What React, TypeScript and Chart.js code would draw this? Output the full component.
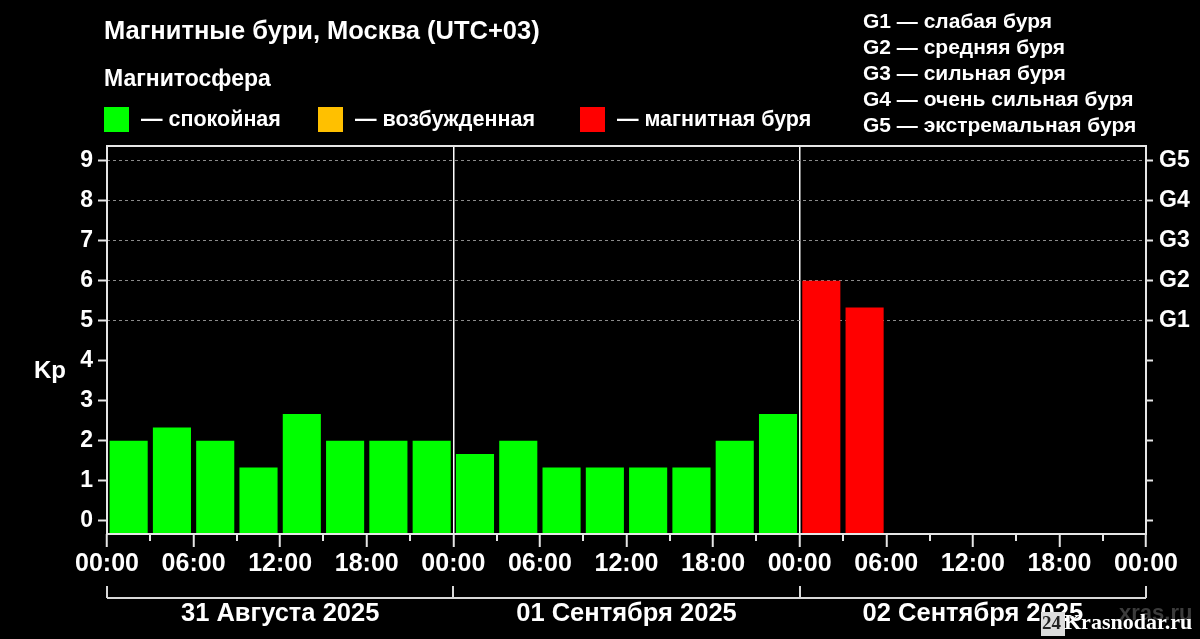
import React, { useEffect, useRef } from "react";
import { Chart, registerables } from "chart.js";

Chart.register(...registerables);

// ---- data ----
const SLOT_CENTERS = [1.5, 4.5, 7.5, 10.5, 13.5, 16.5, 19.5, 22.5, 25.5, 28.5, 31.5, 34.5, 37.5, 40.5, 43.5, 46.5, 49.5, 52.5];
const KP_VALUES = [2, 2.33, 2, 1.33, 2.67, 2, 2, 2, 1.67, 2, 1.33, 1.33, 1.33, 1.33, 2, 2.67, 6, 5.33];
const X_TICK_HOURS = [0, 6, 12, 18, 24, 30, 36, 42, 48, 54, 60, 66, 72];
const X_TICK_LABELS = ["00:00", "06:00", "12:00", "18:00", "00:00", "06:00", "12:00", "18:00", "00:00", "06:00", "12:00", "18:00", "00:00"];
const MINOR_TICK_HOURS = [3, 9, 15, 21, 27, 33, 39, 45, 51, 57, 63, 69];
const DAY_BOUNDS = [0, 24, 48, 72];
const DAY_LABELS = ["31 Августа 2025", "01 Сентября 2025", "02 Сентября 2025"];
const Y_TICKS = [0, 1, 2, 3, 4, 5, 6, 7, 8, 9];
const G_LABELS = ["", "", "", "", "", "G1", "G2", "G3", "G4", "G5"];
const LEGEND_LABELS = ["— спокойная", "— возбужденная", "— магнитная буря"];
const LEGEND_COLORS = ["#00ff00", "#ffc000", "#ff0000"];
const G_SCALE_TEXT = ["G1 — слабая буря", "G2 — средняя буря", "G3 — сильная буря", "G4 — очень сильная буря", "G5 — экстремальная буря"];
const TITLE = "Магнитные бури, Москва (UTC+03)";
const SUBTITLE = "Магнитосфера";
const Y_TITLE = "Kp";
const Y_MIN = -0.33;
const Y_MAX = 9.37;

const FONT = "'Liberation Sans', Arial, Helvetica, sans-serif";

function barColor(v: number): string {
  if (v >= 5) return LEGEND_COLORS[2];
  if (v >= 4) return LEGEND_COLORS[1];
  return LEGEND_COLORS[0];
}

const decorPlugin = {
  id: "decor",
  beforeDraw(chart: any) {
    const ctx = chart.ctx;
    ctx.save();
    ctx.fillStyle = "#000";
    ctx.fillRect(0, 0, chart.width, chart.height);
    ctx.restore();
  },
  afterDatasetsDraw(chart: any) {
    const ctx = chart.ctx;
    const a = chart.chartArea;
    const xs = chart.scales.x;
    ctx.save();
    ctx.strokeStyle = "#e6e6e6";
    ctx.lineWidth = 2;
    ctx.strokeRect(a.left, a.top, a.right - a.left, a.bottom - a.top);
    // minor ticks
    MINOR_TICK_HOURS.forEach((h) => {
      const px = Math.round(xs.getPixelForValue(h));
      ctx.beginPath();
      ctx.moveTo(px, a.bottom);
      ctx.lineTo(px, a.bottom + 7);
      ctx.stroke();
    });
    ctx.restore();
  },
  afterDraw(chart: any) {
    const ctx = chart.ctx;
    const xs = chart.scales.x;
    ctx.save();
    ctx.fillStyle = "#ffffff";
    ctx.textBaseline = "middle";
    ctx.textAlign = "left";
    // title
    ctx.font = `bold 25.5px ${FONT}`;
    ctx.fillText(TITLE, 104, 32);
    ctx.font = `bold 23px ${FONT}`;
    ctx.fillText(SUBTITLE, 104, 80);
    // legend
    const legendX = [104, 318, 580];
    ctx.font = `bold 21.5px ${FONT}`;
    LEGEND_LABELS.forEach((lab, i) => {
      ctx.fillStyle = LEGEND_COLORS[i];
      ctx.fillRect(legendX[i], 107, 25, 25);
      ctx.fillStyle = "#ffffff";
      ctx.fillText(lab, legendX[i] + 37, 120);
    });
    // G scale text
    ctx.font = `bold 21px ${FONT}`;
    G_SCALE_TEXT.forEach((t, i) => {
      ctx.fillText(t, 863, 22 + i * 26);
    });
    // y title
    ctx.font = `bold 24px ${FONT}`;
    ctx.fillText(Y_TITLE, 34, 371);
    // day brackets
    ctx.strokeStyle = "#d9d9d9";
    ctx.lineWidth = 2;
    const by = 598;
    ctx.beginPath();
    ctx.moveTo(xs.getPixelForValue(DAY_BOUNDS[0]), by);
    ctx.lineTo(xs.getPixelForValue(DAY_BOUNDS[DAY_BOUNDS.length - 1]), by);
    DAY_BOUNDS.forEach((h) => {
      const px = Math.round(xs.getPixelForValue(h));
      ctx.moveTo(px, by);
      ctx.lineTo(px, by - 12);
    });
    ctx.stroke();
    ctx.font = `bold 25.5px ${FONT}`;
    ctx.textAlign = "center";
    ctx.fillStyle = "#ffffff";
    DAY_LABELS.forEach((lab, i) => {
      const cx = (xs.getPixelForValue(DAY_BOUNDS[i]) + xs.getPixelForValue(DAY_BOUNDS[i + 1])) / 2;
      ctx.fillText(lab, cx, 614);
    });
    // watermarks
    ctx.textAlign = "left";
    ctx.font = `bold 22px ${FONT}`;
    ctx.fillStyle = "#3c3c3c";
    ctx.fillText("xras.ru", 1119, 614);
    ctx.fillStyle = "#dcdcdc";
    ctx.fillRect(1041, 612, 24, 24);
    ctx.fillStyle = "#222";
    ctx.font = `bold 19px 'Liberation Serif', 'DejaVu Serif', serif`;
    ctx.fillText("24", 1042, 624);
    ctx.fillStyle = "#ffffff";
    ctx.font = `bold 22px 'Liberation Serif', 'DejaVu Serif', serif`;
    ctx.fillText("Krasnodar.ru", 1064, 623);
    ctx.restore();
  },
};

export default function App() {
  const ref = useRef<HTMLCanvasElement | null>(null);

  useEffect(() => {
    document.body.style.margin = "0";
    document.body.style.background = "#000";
    const canvas = ref.current;
    if (!canvas) return;
    const chart = new Chart(canvas, {
      type: "bar",
      data: {
        datasets: [
          {
            data: KP_VALUES.map((y, i) => ({ x: SLOT_CENTERS[i], y })),
            backgroundColor: KP_VALUES.map(barColor),
            borderWidth: 0,
            barPercentage: 0.88,
            categoryPercentage: 1,
            base: Y_MIN,
            xAxisID: "x",
            yAxisID: "y",
          } as any,
        ],
      },
      options: {
        animation: false,
        responsive: false,
        devicePixelRatio: 1,
        layout: { padding: { top: 146, left: 0, right: 0, bottom: 0 } },
        plugins: { legend: { display: false }, tooltip: { enabled: false }, title: { display: false } },
        scales: {
          x: {
            type: "linear",
            position: "bottom",
            offset: false,
            min: 0,
            max: 72,
            afterBuildTicks: (scale: any) => {
              scale.ticks = X_TICK_HOURS.map((v) => ({ value: v }));
            },
            afterFit: (scale: any) => {
              scale.height = 105;
            },
            ticks: {
              autoSkip: false,
              maxRotation: 0,
              minRotation: 0,
              color: "#ffffff",
              font: { family: FONT, size: 25, weight: "bold" },
              padding: 2,
              callback: (value: any) => {
                const i = X_TICK_HOURS.indexOf(Number(value));
                return i >= 0 ? X_TICK_LABELS[i] : "";
              },
            },
            grid: {
              offset: false,
              drawOnChartArea: true,
              color: (c: any) => (c.tick && (c.tick.value === 24 || c.tick.value === 48) ? "#ffffff" : "rgba(0,0,0,0)"),
              tickColor: "#e6e6e6",
              lineWidth: 1.5,
              tickWidth: 2,
              tickLength: 13,
            },
            border: { display: false },
          },
          y: {
            type: "linear",
            position: "left",
            min: Y_MIN,
            max: Y_MAX,
            afterBuildTicks: (scale: any) => {
              scale.ticks = Y_TICKS.map((v) => ({ value: v }));
            },
            afterFit: (scale: any) => {
              scale.width = 107;
            },
            ticks: {
              color: "#ffffff",
              font: { family: FONT, size: 23, weight: "bold" },
              padding: 5,
              callback: (value: any) => String(value),
            },
            grid: {
              drawOnChartArea: true,
              color: (c: any) => (c.tick && c.tick.value >= 5 ? "#8c8c8c" : "rgba(0,0,0,0)"),
              tickColor: "#e6e6e6",
              lineWidth: 1,
              tickWidth: 2,
              tickLength: 9,
              tickBorderDash: [],
            },
            border: { display: false, dash: [3, 3] },
          },
          y2: {
            type: "linear",
            position: "right",
            min: Y_MIN,
            max: Y_MAX,
            afterBuildTicks: (scale: any) => {
              scale.ticks = Y_TICKS.map((v) => ({ value: v }));
            },
            afterFit: (scale: any) => {
              scale.width = 54;
            },
            ticks: {
              color: "#ffffff",
              font: { family: FONT, size: 23, weight: "bold" },
              padding: 6,
              callback: (value: any) => {
                const i = Y_TICKS.indexOf(Number(value));
                return i >= 0 ? G_LABELS[i] : "";
              },
            },
            grid: {
              drawOnChartArea: false,
              tickColor: "#e6e6e6",
              tickWidth: 2,
              tickLength: 7,
            },
            border: { display: false },
          },
        },
      } as any,
      plugins: [decorPlugin],
    });
    return () => chart.destroy();
  }, []);

  return (
    <div style={{ width: 1200, height: 639, background: "#000" }}>
      <canvas ref={ref} width={1200} height={639} style={{ display: "block" }} />
    </div>
  );
}
